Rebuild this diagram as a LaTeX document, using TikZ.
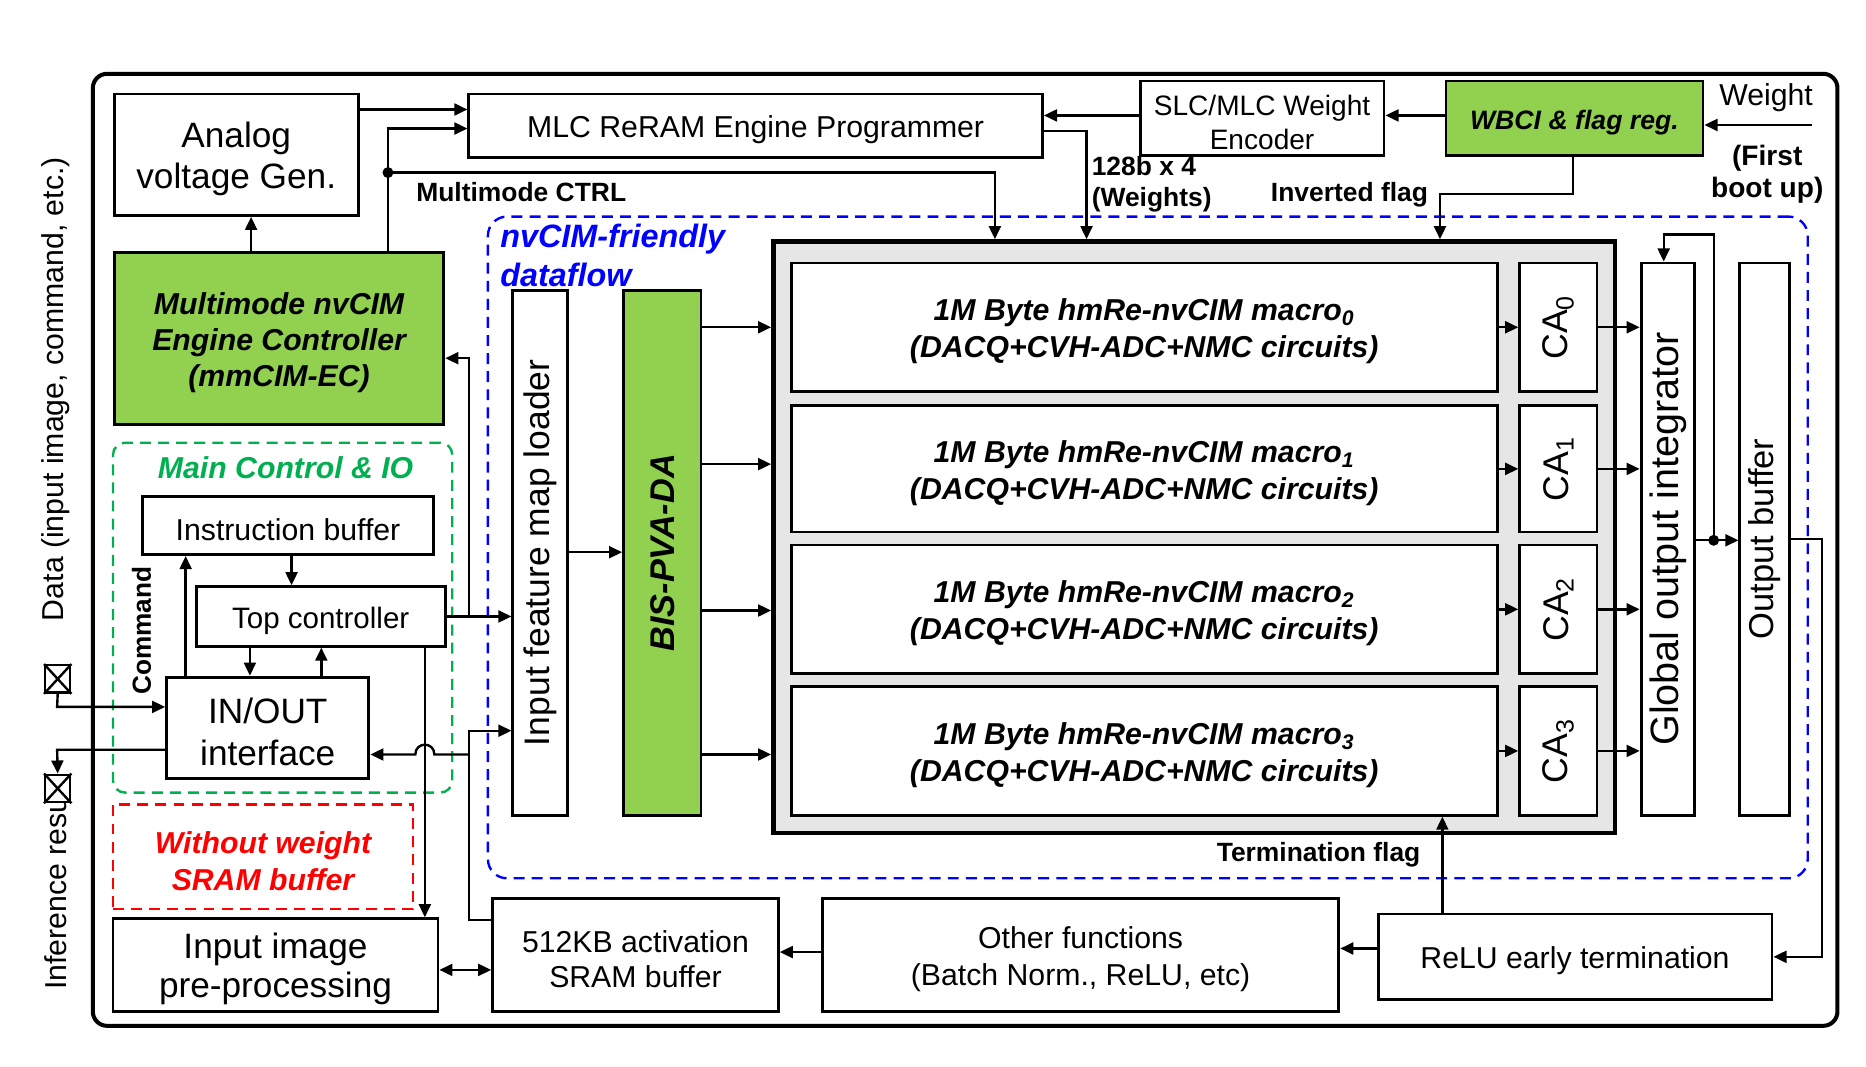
\documentclass[tikz,border=0pt]{standalone}
\usepackage{fontspec}
\setmainfont{Liberation Sans}
\usetikzlibrary{arrows.meta,fit,calc}
\definecolor{cimgreen}{RGB}{146,208,80}
\definecolor{dgreen}{RGB}{0,176,80}
\definecolor{lgray}{RGB}{230,230,230}
\newcommand\fsS{\fontsize{11.1}{13.2}\selectfont}
\newcommand\fsM{\fontsize{12.7}{15.5}\selectfont}
\newcommand\fsL{\fontsize{14.8}{17.5}\selectfont}
\tikzset{
  blk/.style={draw, line width=1.2pt, fill=white, inner sep=0pt},
  gblk/.style={blk, fill=cimgreen},
  tx/.style={inner sep=0pt, align=center, font=\fsM, yshift=-1.7pt},
  btx/.style={tx, font=\fsM\bfseries\itshape},
  conn/.style={line width=1pt, -{Triangle[length=5.5pt,width=5pt]}},
  plain/.style={line width=1pt},
  lbl/.style={font=\fsS\bfseries, inner sep=0pt},
  dsh/.style={line width=1pt, dash pattern=on 4.6pt off 3pt, inner sep=0pt, rounded corners=5pt},
}
\begin{document}
\begin{tikzpicture}[x=0.5pt,y=-0.5pt]
\fill[white] (0,0) rectangle (1568,896);
\useasboundingbox (0,0) rectangle (1568,896);

% outer frame
\node[draw, line width=1.7pt, rounded corners=6pt, inner sep=0pt, fit={(78,62) (1544,862)}] (frame) {};

% side labels and ports
\node[font=\fsM, rotate=90, inner sep=0pt] (datalbl) at (47,327) {Data (input image, command, etc.)};
\node[font=\fsM, rotate=90, anchor=west, inner sep=0pt] (inflbl) at (47,832) {Inference result};
\node[draw, line width=1pt, fill=white, inner sep=0pt, fit={(38,559) (59,582)}] (pin) {};
\draw[plain] (pin.north west) -- (pin.south east) (pin.north east) -- (pin.south west);
\node[draw, line width=1pt, fill=white, inner sep=0pt, fit={(38,651) (59,674)}] (pout) {};
\draw[plain] (pout.north west) -- (pout.south east) (pout.north east) -- (pout.south west);

% top row
\node[blk, fit={(96,79) (301,181)}] (avg) {};
\node[tx, font=\fsL] (avgt) at (avg.center) {Analog\\voltage Gen.};
\node[blk, fit={(394,79) (876,132)}] (mlc) {};
\node[tx] (mlct) at (mlc.center) {MLC ReRAM Engine Programmer};
\node[blk, fit={(958,68) (1163,131)}] (enc) {};
\node[tx, font=\fontsize{11.8}{14.5}\selectfont] (enct) at (enc.center) {SLC/MLC Weight\\Encoder};
\node[gblk, fit={(1215,68) (1431,131)}] (wbci) {};
\node[btx, font=\fontsize{11.2}{13}\selectfont\bfseries\itshape] (wbcit) at (wbci.center) {WBCI \& flag reg.};
\node[tx] (wlbl) at (1484,79) {Weight};
\node[tx, font=\fontsize{11.8}{13.5}\selectfont\bfseries] (fblbl) at (1485,143) {(First\\boot up)};

% controller
\node[gblk, fit={(96,212) (373,357)}] (ec) {};
\node[btx, font=\fontsize{12.7}{15.2}\selectfont\bfseries\itshape] (ect) at (ec.center) {Multimode nvCIM\\Engine Controller\\(mmCIM-EC)};

% main control & IO
\node[dsh, draw=dgreen, fit={(95,372) (380,666)}] (mcio) {};
\node[btx, text=dgreen] (mctitle) at (240,390) {Main Control \& IO};
\node[blk, fit={(120,417) (364,466)}] (ib) {};
\node[tx] (ibt) at (ib.center) {Instruction buffer};
\node[blk, fit={(165,493) (374,543)}] (tc) {};
\node[tx, font=\fontsize{12.4}{15}\selectfont] (tct) at (tc.center) {Top controller};
\node[blk, fit={(140,569) (310,654)}] (io) {};
\node[tx, font=\fsL] (iot) at (io.center) {IN/OUT\\interface};
\node[font=\fontsize{11}{13}\selectfont\bfseries, rotate=90, inner sep=0pt] (cmd) at (119,530) {Command};

% without weight SRAM
\node[dsh, draw=red, rounded corners=0pt, fit={(95,676) (347,764)}] (nows) {};
\node[btx, text=red] (nowst) at (nows.center) {Without weight\\SRAM buffer};

% bottom row
\node[blk, fit={(95,772) (368,850)}] (img) {};
\node[tx, font=\fontsize{14.8}{16.5}\selectfont] (imgt) at (img.center) {Input image\\pre-processing};
\node[blk, fit={(414,755) (654,850)}] (sram) {};
\node[tx, font=\fontsize{12.7}{15}\selectfont] (sramt) at (sram.center) {512KB activation\\SRAM buffer};
\node[blk, fit={(691,755) (1125,850)}] (other) {};
\node[tx] (othert) at (other.center) {Other functions\\(Batch Norm., ReLU, etc)};
\node[blk, fit={(1158,768) (1489,840)}] (relu) {};
\node[tx] (relut) at (relu.center) {ReLU early termination};

% nvCIM dataflow region
\node[dsh, draw=blue, rounded corners=8pt, fit={(410,182) (1519,738)}] (nvdf) {};
\node[blk, fit={(431,244) (477,685)}] (loader) {};
\node[font=\fontsize{14.9}{17}\selectfont, rotate=90, inner sep=0pt] (loadertxt) at (loader.center) {Input feature map loader};
\node[gblk, fit={(524,244) (589,685)}] (bis) {};
\node[font=\fontsize{14.4}{17}\selectfont\bfseries\itshape, rotate=90, inner sep=0pt] (bistxt) at (bis.center) {BIS-PVA-DA};
\node[font=\fontsize{13.6}{16.5}\selectfont\bfseries\itshape, text=blue, align=left, anchor=north west, inner sep=0pt] (nvtitle) at (420,188) {nvCIM-friendly\\dataflow};

\node[draw, line width=2pt, fill=lgray, inner sep=0pt, fit={(650,203) (1357,700)}] (arr) {};
\node[blk, fit={(665,221) (1258,329)}] (m0) {};
\node[blk, fit={(665,341) (1258,447)}] (m1) {};
\node[blk, fit={(665,458) (1258,566)}] (m2) {};
\node[blk, fit={(665,577) (1258,685)}] (m3) {};
\node[blk, fit={(1277,221) (1342,329)}] (ca0) {};
\node[blk, fit={(1277,341) (1342,447)}] (ca1) {};
\node[blk, fit={(1277,458) (1342,566)}] (ca2) {};
\node[blk, fit={(1277,577) (1342,685)}] (ca3) {};
\foreach \i in {0,1,2,3}{
  \node[btx] (m\i t) at (m\i.center) {1M Byte hmRe-nvCIM macro\textsubscript{\i}\\(DACQ+CVH-ADC+NMC circuits)};
  \node[font=\fontsize{15}{17}\selectfont, rotate=90, inner sep=0pt] (ca\i txt) at (ca\i.center) {CA\textsubscript{\i}};
}
\node[blk, fit={(1379,221) (1424,685)}] (glob) {};
\node[font=\fontsize{16.6}{19}\selectfont, rotate=90, inner sep=0pt] (globtxt) at (glob.center) {Global output integrator};
\node[blk, fit={(1462,221) (1504,685)}] (obuf) {};
\node[font=\fontsize{14.5}{17}\selectfont, rotate=90, inner sep=0pt] (obuftxt) at (obuf.center) {Output buffer};

% labels
\node[lbl] (mmlbl) at (438,161) {Multimode CTRL};
\node[lbl, align=left, anchor=west, font=\fontsize{11.1}{13}\selectfont\bfseries] (wlbl2) at (917,155) {128b x 4\\(Weights)};
\node[lbl] (invlbl) at (1134,164) {Inverted flag};
\node[lbl] (termlbl) at (1108,718) {Termination flag};

% connectors: top
\coordinate (mmdot) at (326,145);
\draw[conn] (211,0 |- ec.north) -- (211,0 |- avg.south);
\draw[conn] (avg.east |- 0,92) -- (mlc.west |- 0,92);
\draw[conn] (326,0 |- ec.north) -- (326,108) -- (mlc.west |- 0,108);
\draw[conn] (mmdot) -- (836,145) -- (836,0 |- arr.north);
\fill (mmdot) circle (2.3pt);
\draw[conn] (mlc.east |- 0,110) -- (913,110) -- (913,0 |- arr.north);
\draw[conn] (enc.west |- 0,97) -- (mlc.east |- 0,97);
\draw[conn] (wbci.west |- 0,97) -- (enc.east |- 0,97);
\coordinate (win) at (1523,105);
\draw[conn] (win) -- (wbci.east |- win);
\draw[conn] (1322,0 |- wbci.south) -- (1322,163) -- (1210,163) -- (1210,0 |- arr.north);

% connectors: main control
\draw[conn] (245,0 |- ib.south) -- (245,0 |- tc.north);
\draw[conn] (156,0 |- io.north) -- (156,0 |- ib.south);
\draw[conn] (210,0 |- tc.south) -- (210,0 |- io.north);
\draw[conn] (270,0 |- io.north) -- (270,0 |- tc.south);
\coordinate (j1) at (394,518);
\draw[conn] (tc.east |- j1) -- (loader.west |- j1);
\draw[conn] (j1) -- (394,301) -- (ec.east |- 0,301);
\draw[conn] (357,0 |- tc.south) -- (357,0 |- img.north);
\draw[conn] (sram.west |- 0,773) -- (394,773) -- (394,614) -- (loader.west |- 0,614);
\coordinate (j2) at (394,634);
\draw[conn] (j2) -- (365,634) .. controls (365,623) and (349,623) .. (349,634) -- (io.east |- j2);
\draw[conn] (pin.south) -- (48,594) -- (io.west |- 0,594);
\draw[conn] (io.west |- 0,630) -- (48,630) -- (pout.north);
\draw[line width=1pt, {Triangle[length=5.5pt,width=5pt]}-{Triangle[length=5.5pt,width=5pt]}] (img.east |- 0,815) -- (sram.west |- 0,815);

% connectors: dataflow
\draw[conn] (loader.east |- 0,464) -- (bis.west |- 0,464);
\foreach \y in {275,390,513,634}{
  \draw[conn] (bis.east |- 0,\y) -- (arr.west |- 0,\y);
}
\foreach \i in {0,1,2,3}{
  \draw[conn] (m\i.east) -- (ca\i.west);
  \draw[conn] (ca\i.east) -- (glob.west |- ca\i.east);
}
\coordinate (gdot) at (1440,454);
\draw[conn] (glob.east |- gdot) -- (obuf.west |- gdot);
\draw[conn] (gdot) -- (1440,197) -- (1398,197) -- (1398,0 |- glob.north);
\fill (gdot) circle (2.3pt);
\draw[conn] (obuf.east |- 0,453) -- (1531,453) -- (1531,804) -- (relu.east |- 0,804);
\draw[conn] (relu.west |- 0,797) -- (other.east |- 0,797);
\draw[conn] (other.west |- 0,800) -- (sram.east |- 0,800);
\draw[conn] (1212,0 |- relu.north) -- (1212,0 |- m3.south);
\end{tikzpicture}
\end{document}
